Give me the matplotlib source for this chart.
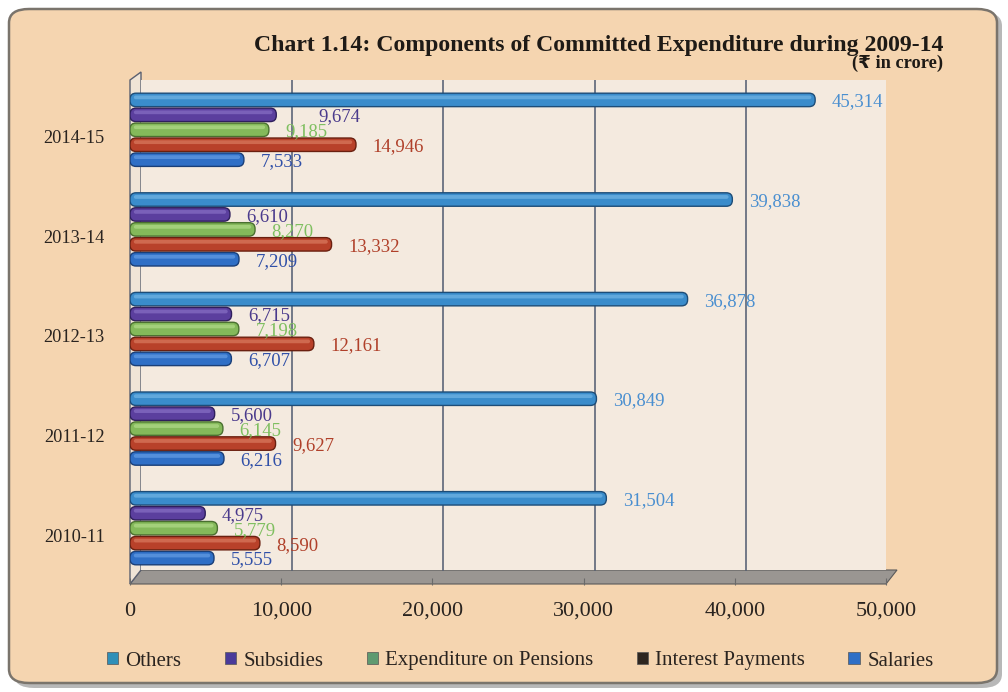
import matplotlib
matplotlib.use("Agg")
import matplotlib.pyplot as plt
import matplotlib.transforms as mtransforms
from matplotlib.patches import FancyBboxPatch, Rectangle, Polygon, Patch
import numpy as np

plt.rcParams['font.family'] = ['Liberation Serif', 'DejaVu Serif', 'DejaVu Sans']

years = ["2010-11", "2011-12", "2012-13", "2013-14", "2014-15"]
series_names = ["Others", "Subsidies", "Expenditure on Pensions", "Interest Payments", "Salaries"]
others = [31504, 30849, 36878, 39838, 45314]
subsidies = [4975, 5600, 6715, 6610, 9674]
pensions = [5779, 6145, 7198, 8270, 9185]
interest = [8590, 9627, 12161, 13332, 14946]
salaries = [5555, 6216, 6707, 7209, 7533]
xticks = [0, 10000, 20000, 30000, 40000, 50000]

series_values = [others, subsidies, pensions, interest, salaries]
bar_colors = ["#3a8ccb", "#5b3f9e", "#84b95a", "#b8412a", "#2f6fc6"]
edge_colors = ["#1d4d78", "#2f1f5c", "#4a7030", "#6a2010", "#1a3f78"]
hi_colors = ["#7cbce8", "#8f78cc", "#b8e090", "#e08468", "#6ea6ea"]
label_colors = ["#4a8fd0", "#4a3a8c", "#7fbf60", "#b0402a", "#3050a8"]
legend_colors = ["#2f8fb8", "#4a3a9a", "#5f9a70", "#2e2620", "#2f6fc6"]

fig = plt.figure(figsize=(10.08, 6.92), dpi=100)
fig.patch.set_facecolor("white")

# outer rounded frame with shadow
shadow = FancyBboxPatch((14 / 1008, 4 / 692), 988 / 1008, 676 / 692,
                        boxstyle="round,pad=0,rounding_size=0.02",
                        transform=fig.transFigure, facecolor="#8a8a8a",
                        edgecolor="none", alpha=0.6, zorder=0)
fig.patches.append(shadow)
frame = FancyBboxPatch((9 / 1008, 9 / 692), 988 / 1008, 674 / 692,
                       boxstyle="round,pad=0,rounding_size=0.02",
                       transform=fig.transFigure, facecolor="#f5d5b0",
                       edgecolor="#7a746c", linewidth=1.8, zorder=0.5)
fig.patches.append(frame)

AX_L, AX_R, AX_T, AX_B = 130, 886, 80, 578
ax = fig.add_axes([AX_L / 1008, 1 - AX_B / 692, (AX_R - AX_L) / 1008, (AX_B - AX_T) / 692])
ax.set_facecolor("none")
ax.set_zorder(2)

# 3D back wall offset
dx, dy = 11 / 100, 8 / 100
back = ax.transAxes + mtransforms.ScaledTranslation(dx, dy, fig.dpi_scale_trans)
wall = Rectangle((0, 0), 1, 1, transform=back, facecolor="#f4eadf",
                 edgecolor="none", zorder=0)
ax.add_patch(wall)
ax.plot([1, 1], [0, 1], transform=back, color="#5a6070", lw=1.2, zorder=0.5)
fig.canvas.draw()
p0 = ax.transAxes.transform((0, 0)); p1 = ax.transAxes.transform((1, 0))
off = np.array([dx * fig.dpi, dy * fig.dpi])
pts = np.array([p0 - [0, 6], p1 - [0, 6], p1 + off, p0 + off])
floor = Polygon(fig.transFigure.inverted().transform(pts), closed=True,
                transform=fig.transFigure, facecolor="#9a9692",
                edgecolor="#5a5a5a", linewidth=0.8, zorder=1)
fig.patches.append(floor)
lw = np.array([p0 - [0, 6], p0 + off, ax.transAxes.transform((0, 1)) + off,
               ax.transAxes.transform((0, 1))])
leftwall = Polygon(fig.transFigure.inverted().transform(lw), closed=True,
                   transform=fig.transFigure, facecolor="#efe4d6",
                   edgecolor="#5a6070", linewidth=1.0, zorder=1)
fig.patches.append(leftwall)

# gridlines on back wall
grid_tr = mtransforms.blended_transform_factory(ax.transData, ax.transAxes) + \
    mtransforms.ScaledTranslation(dx, dy, fig.dpi_scale_trans)
for xv in xticks[1:-1]:
    ax.plot([xv, xv], [0, 1], transform=grid_tr, color="#4f5a70", lw=1.1, zorder=0.5)

# data-unit to pixel scales for rounded bar ends
px_per_x = (AX_R - AX_L) / 50000
px_per_y = (AX_B - AX_T) / 5.0
r_px = 6.0
mut_aspect = (r_px / px_per_y) / (r_px / px_per_x)

y = np.arange(len(years))
offsets = [0.3, 0.15, 0.0, -0.15, -0.3]
h = 0.135
nudges = {(4, 1): 1700}
for i, vals in enumerate(series_values):
    pos = y + offsets[i]
    bars = ax.barh(pos, vals, height=h, color=bar_colors[i], edgecolor=edge_colors[i],
                   linewidth=0.9, zorder=3)
    for rect in bars:
        rect.set_visible(False)
        bx, by = rect.get_x(), rect.get_y()
        bw, bh = rect.get_width(), rect.get_height()
        ax.add_patch(FancyBboxPatch((bx, by), bw, bh,
                                    boxstyle=f"round,pad=0,rounding_size={r_px / px_per_x:.1f}",
                                    mutation_aspect=mut_aspect,
                                    facecolor=bar_colors[i], edgecolor=edge_colors[i],
                                    linewidth=1.0, zorder=3))
        hb = bh * 0.28
        ax.add_patch(FancyBboxPatch((bx + 250, by + bh * 0.55), max(bw - 500, 0), hb,
                                    boxstyle=f"round,pad=0,rounding_size={2 / px_per_x:.1f}",
                                    mutation_aspect=mut_aspect,
                                    facecolor=hi_colors[i], edgecolor="none",
                                    alpha=0.6, zorder=3.5))
    for j, v in enumerate(vals):
        extra = nudges.get((j, i), 0)
        ax.text(v + 1100 + extra, pos[j] - 0.02, f"{v:,}", color=label_colors[i],
                fontsize=13.5, va="center", ha="left", zorder=4)

ax.set_xlim(0, 50000)
ax.set_ylim(-0.5, 4.5)
ax.set_xticks(xticks)
ax.set_xticklabels([f"{t:,}" for t in xticks], fontsize=16, color="#2a2420")
ax.set_yticks(y)
ax.set_yticklabels(years, fontsize=13.2, color="#2a2420")
ax.tick_params(axis="x", length=5, color="#6a6a6a", pad=12)
ax.tick_params(axis="y", length=0, pad=18)
ytick_shift = mtransforms.ScaledTranslation(0, -7 / 100, fig.dpi_scale_trans)
for lab in ax.get_yticklabels():
    lab.set_transform(lab.get_transform() + ytick_shift)
for s in ax.spines.values():
    s.set_visible(False)

fig.text(943 / 1008, 1 - 45 / 692, "Chart 1.14: Components of Committed Expenditure during 2009-14",
         ha="right", va="center", fontsize=17.1, fontweight="bold", color="#1e1a16")
fig.text(943 / 1008, 1 - 63 / 692, "(\u20b9 in crore)", ha="right", va="center",
         fontsize=13.2, fontweight="bold", color="#1e1a16",
         family=['Liberation Serif', 'DejaVu Sans'])

handles = [Patch(facecolor=legend_colors[i], edgecolor="#555555", linewidth=0.5)
           for i in range(5)]
leg = fig.legend(handles, series_names, loc="center", bbox_to_anchor=(0.516, 1 - 661 / 692),
                 ncol=5, frameon=False, fontsize=15, handlelength=0.55, handleheight=0.55,
                 handletextpad=0.35, columnspacing=2.07)
for t in leg.get_texts():
    t.set_color("#2a2420")

fig.savefig("out.png", dpi=100, facecolor=fig.get_facecolor())
